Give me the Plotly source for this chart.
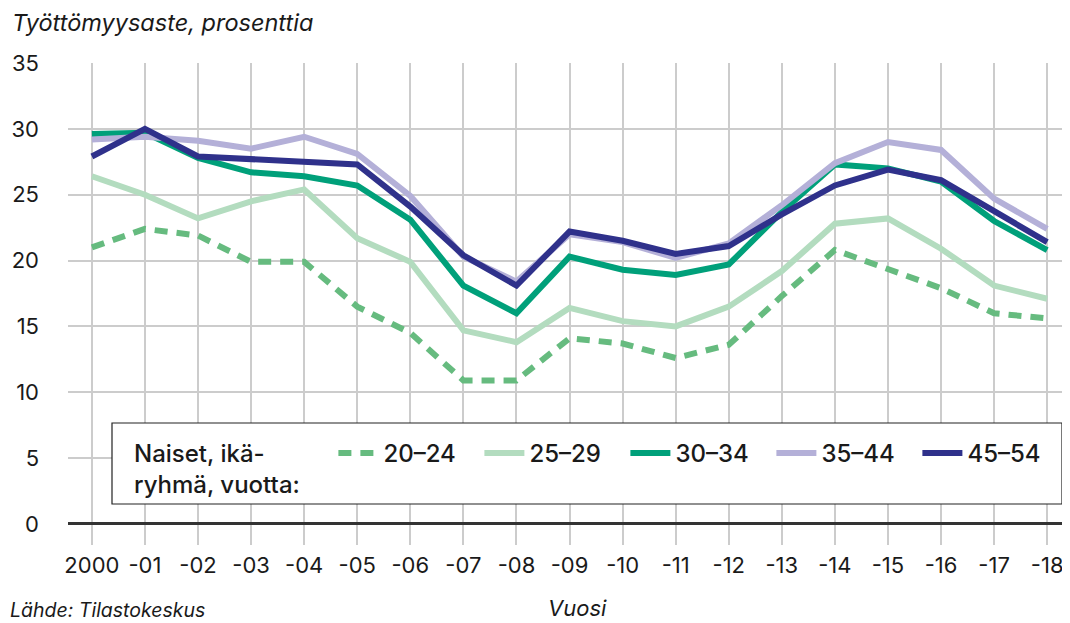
import plotly.graph_objects as go

years = ["2000", "-01", "-02", "-03", "-04", "-05", "-06", "-07", "-08", "-09",
         "-10", "-11", "-12", "-13", "-14", "-15", "-16", "-17", "-18"]
s20_24 = [21.0, 22.4, 21.9, 19.9, 19.9, 16.5, 14.5, 10.9, 10.9, 14.1,
          13.7, 12.6, 13.6, 17.3, 20.8, 19.4, 17.9, 16.0, 15.6]
s25_29 = [26.4, 25.0, 23.2, 24.5, 25.4, 21.7, 19.9, 14.7, 13.8, 16.4,
          15.4, 15.0, 16.5, 19.2, 22.8, 23.2, 20.9, 18.1, 17.1]
s30_34 = [29.6, 29.7, 27.8, 26.7, 26.4, 25.7, 23.1, 18.1, 16.0, 20.3,
          19.3, 18.9, 19.7, 23.7, 27.3, 27.0, 26.0, 23.0, 20.8]
s35_44 = [29.2, 29.4, 29.1, 28.5, 29.4, 28.1, 24.9, 20.3, 18.4, 22.0,
          21.4, 20.2, 21.3, 24.2, 27.4, 29.0, 28.4, 24.7, 22.4]
s45_54 = [27.9, 30.0, 27.9, 27.7, 27.5, 27.3, 24.1, 20.4, 18.1, 22.2,
          21.5, 20.5, 21.1, 23.5, 25.7, 26.9, 26.1, 23.7, 21.4]
series_names = ["20–24", "25–29", "30–34", "35–44", "45–54"]
yticks = [0, 5, 10, 15, 20, 25, 30, 35]

colors = ["#66bb7f", "#b3dcbf", "#00a07a", "#b4b0d8", "#2f318b"]
dashes = ["13px,9px", "solid", "solid", "solid", "solid"]

FONT = "Inter"
xs = list(range(len(years)))

# page body has an 8px offset, so the figure is 8px smaller on each axis
W, H = 1062, 615
PL, PT, PB = 60, 55, 78
PW = W - PL
PH = H - PT - PB


def px_x(x_ref):
    return (x_ref - 68) / PW


def px_y(y_ref):
    return (545 - y_ref) / PH


fig = go.Figure()
for name, vals, col, dsh in zip(series_names, [s20_24, s25_29, s30_34, s35_44, s45_54], colors, dashes):
    fig.add_trace(go.Scatter(
        x=xs, y=vals, mode="lines", name=name,
        line=dict(color=col, width=6, dash=dsh),
        hoverinfo="skip",
    ))

fig.update_layout(
    width=W, height=H,
    margin=dict(l=PL, r=0, t=PT, b=PB),
    paper_bgcolor="white", plot_bgcolor="white",
    font=dict(family=FONT, size=22, color="#1a1a1a"),
    showlegend=True,
    legend=dict(
        orientation="h",
        x=px_x(132), y=px_y(431), xanchor="left", yanchor="top",
        bgcolor="rgba(0,0,0,0)", borderwidth=0,
        title=dict(text="Naiset, ikä-<br>ryhmä, vuotta:\u00a0\u00a0\u00a0\u00a0", side="left",
                   font=dict(family=FONT, size=24, color="#1a1a1a", weight=500)),
        font=dict(family=FONT, size=24, color="#1a1a1a", weight=500),
        entrywidth=91, entrywidthmode="pixels",
        itemwidth=40,
    ),
    shapes=[
        dict(type="rect", xref="paper", yref="paper",
             x0=px_x(112), x1=px_x(1062), y0=px_y(504), y1=px_y(423),
             fillcolor="white", line=dict(color="#222222", width=1.2), layer="above"),
    ],
    xaxis=dict(
        range=[-0.45, 18.43],
        tickvals=xs, ticktext=years,
        showgrid=True, gridcolor="#cccccc", gridwidth=1.5,
        zeroline=False, showline=False, ticks="",
        tickfont=dict(family=FONT, size=22, color="#1a1a1a"),
        ticklabelstandoff=5,
        fixedrange=True,
    ),
    yaxis=dict(
        range=[-1.6, 35],
        tickvals=yticks,
        showgrid=True, gridcolor="#cccccc", gridwidth=1.5,
        zeroline=True, zerolinecolor="#333333", zerolinewidth=2.5,
        showline=False, ticks="",
        tickfont=dict(family=FONT, size=22, color="#1a1a1a"),
        ticklabelstandoff=28,
        fixedrange=True,
    ),
    annotations=[
        dict(text="<i>Työttömyysaste, prosenttia</i>", xref="paper", yref="paper",
             x=px_x(10), y=px_y(22), xanchor="left", yanchor="middle",
             showarrow=False, font=dict(family=FONT, size=23.5, color="#1a1a1a")),
        dict(text="<i>Lähde: Tilastokeskus</i>", xref="paper", yref="paper",
             x=px_x(8), y=px_y(610), xanchor="left", yanchor="middle",
             showarrow=False, font=dict(family=FONT, size=19.5, color="#1a1a1a")),
        dict(text="<i>Vuosi</i>", xref="paper", yref="paper",
             x=px_x(577), y=px_y(608), xanchor="center", yanchor="middle",
             showarrow=False, font=dict(family=FONT, size=22, color="#1a1a1a")),
    ],
)

fig.write_html("out.html")
